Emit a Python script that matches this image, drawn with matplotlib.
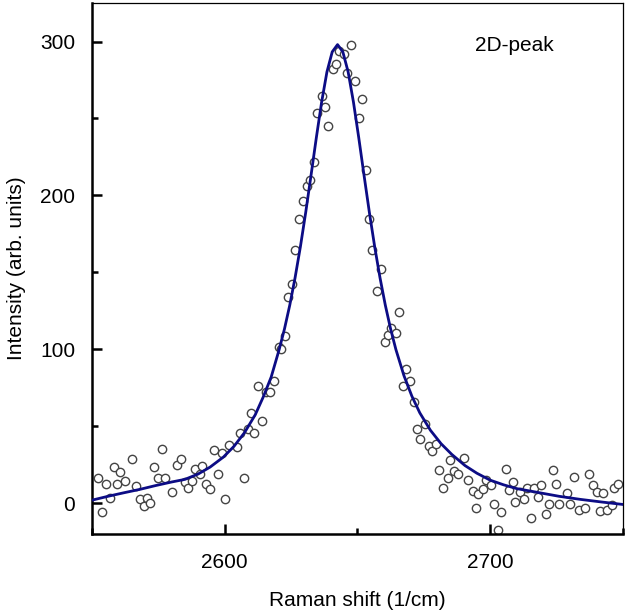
import numpy as np
import matplotlib.pyplot as plt
from matplotlib.ticker import MultipleLocator

plt.rcParams['font.family'] = ['Liberation Sans', 'DejaVu Sans']

# measured points (Raman shift, intensity)
shift = [2552.3, 2553.8, 2555.3, 2556.6, 2558.2, 2559.4, 2560.7, 2562.5, 2565.0, 2566.5,
         2567.9, 2569.5, 2570.7, 2572.0, 2573.5, 2574.8, 2576.3, 2577.5, 2580.3, 2581.9,
         2583.5, 2585.0, 2586.3, 2587.5, 2588.8, 2590.6, 2591.6, 2593.1, 2594.6, 2595.9,
         2597.4, 2598.8, 2600.2, 2601.5, 2604.5, 2605.9, 2607.2, 2608.7, 2610.0, 2611.2,
         2612.6, 2613.9, 2615.6, 2617.0, 2618.4, 2620.6, 2621.2, 2622.8, 2623.7, 2625.2,
         2626.6, 2628.1, 2629.6, 2631.0, 2632.3, 2633.7, 2634.9, 2636.6, 2637.8, 2639.0,
         2640.8, 2641.8, 2643.1, 2644.9, 2646.2, 2647.4, 2649.1, 2650.6, 2651.8, 2653.3,
         2654.3, 2655.6, 2657.2, 2658.7, 2660.2, 2661.4, 2662.8, 2664.5, 2665.8, 2667.0,
         2668.4, 2669.9, 2671.2, 2672.4, 2673.7, 2675.5, 2676.8, 2678.0, 2679.5, 2680.8,
         2682.4, 2684.0, 2684.9, 2686.5, 2688.0, 2690.3, 2691.8, 2693.4, 2694.6, 2695.5,
         2697.4, 2698.6, 2700.5, 2701.5, 2703.0, 2704.2, 2705.8, 2707.1, 2708.6, 2709.2,
         2711.1, 2712.7, 2714.0, 2715.2, 2716.5, 2718.0, 2719.2, 2720.9, 2722.1, 2723.6,
         2724.8, 2726.1, 2729.0, 2730.2, 2731.7, 2733.3, 2735.7, 2737.1, 2738.6, 2740.1,
         2741.5, 2742.7, 2744.0, 2745.8, 2746.7, 2748.0]
intensity = [16.4, -5.6, 12.8, 3.7, 23.5, 12.8, 20.3, 14.3, 28.5, 11.2,
             2.6, -1.9, 3.7, 0.4, 23.5, 16.4, 35.4, 16.4, 7.3, 24.6,
             28.5, 13.8, 9.9, 14.3, 22.5, 19.2, 24.0, 12.5, 9.3, 34.3,
             19.2, 32.4, 3.0, 37.6, 36.3, 45.5, 16.3, 48.5, 58.5, 45.5,
             76.2, 53.5, 72.6, 72.4, 79.2, 101.3, 100.3, 108.4, 133.7, 142.6,
             164.4, 184.5, 196.4, 206.1, 210.3, 221.6, 253.6, 264.9, 257.5, 245.4,
             282.4, 285.6, 293.6, 291.9, 279.5, 297.9, 274.1, 250.4, 262.7, 216.4,
             184.9, 164.4, 138.0, 152.5, 104.5, 109.5, 113.9, 110.6, 124.5, 76.0,
             87.3, 79.7, 65.7, 48.4, 41.5, 51.7, 37.1, 33.9, 38.6, 21.4,
             10.2, 16.4, 28.3, 20.9, 18.8, 29.6, 15.4, 7.8, -2.8, 5.8,
             9.5, 15.4, 11.7, -0.6, -17.5, -5.6, 22.5, 8.7, 13.8, 0.8,
             7.3, 2.6, 10.2, -9.9, 10.2, 4.1, 11.7, -7.1, -0.6, 21.4,
             12.8, -0.6, 6.7, -0.2, 17.1, -4.5, -2.8, 18.8, 11.7, 7.3,
             -5.2, 6.7, -4.5, -1.3, 10.2, 12.8]

# fitted curve
fit_x = [2550, 2556, 2562, 2568, 2574, 2580, 2585, 2590, 2594.5, 2599.5,
         2603.5, 2607.5, 2611.5, 2614.5, 2617.5, 2620.5, 2622.5, 2624.5, 2626.5, 2628.5,
         2630.5, 2632.5, 2634.5, 2636.5, 2638.5, 2640.5, 2642.5, 2644.5, 2646.5, 2648.5,
         2650.5, 2652.5, 2654.5, 2656.5, 2658.5, 2660.5, 2662.5, 2664.5, 2667.5, 2670.5,
         2673.5, 2677.5, 2681.5, 2685.5, 2690.5, 2695, 2700, 2705, 2710, 2718,
         2726, 2734, 2742, 2750]
fit_y = [2.0, 4.5, 6.8, 9.0, 11.5, 13.8, 15.5, 19.0, 23.5, 30.0,
         37.0, 46.0, 57.5, 69.0, 82.0, 99.8, 113.2, 128.7, 146.5, 166.6,
         188.9, 212.9, 237.4, 260.6, 280.2, 293.3, 298.0, 293.3, 280.2, 260.6,
         237.4, 212.9, 188.9, 166.6, 146.5, 128.7, 113.2, 99.8, 83.0, 69.6,
         58.7, 47.4, 38.7, 31.8, 24.5, 19.5, 15.0, 12.0, 9.5, 7.0,
         4.5, 2.5, 0.8, -0.8]

fig = plt.figure(figsize=(6.26, 6.11), dpi=100)
ax = fig.add_axes([0.147, 0.126, 0.848, 0.869])

ax.plot(shift, intensity, 'o', ms=6, mfc='white', mec='#444444', mew=1.0, zorder=2)
ax.plot(fit_x, fit_y, '-', color='#0c0c85', lw=2, zorder=3)

ax.set_xlim(2550, 2750)
ax.set_ylim(-20, 325)
ax.xaxis.set_major_locator(MultipleLocator(100))
ax.xaxis.set_minor_locator(MultipleLocator(50))
ax.yaxis.set_major_locator(MultipleLocator(100))
ax.yaxis.set_minor_locator(MultipleLocator(50))
ax.tick_params(which='both', direction='in', width=1.8, labelsize=15,
               top=False, right=False)
ax.tick_params(axis='x', pad=14)
ax.tick_params(axis='y', pad=12)
ax.tick_params(which='major', length=7)
ax.tick_params(which='minor', length=4)

for s in ['left', 'bottom']:
    ax.spines[s].set_linewidth(1.8)
for s in ['top', 'right']:
    ax.spines[s].set_linewidth(0.9)

ax.set_xlabel("Raman shift (1/cm)", fontsize=15, labelpad=13)
ax.set_ylabel("Intensity (arb. units)", fontsize=15, labelpad=10)
ax.text(0.795, 0.92, "2D-peak", transform=ax.transAxes, fontsize=15, ha='center', va='center')

plt.savefig("out.png", dpi=100)
